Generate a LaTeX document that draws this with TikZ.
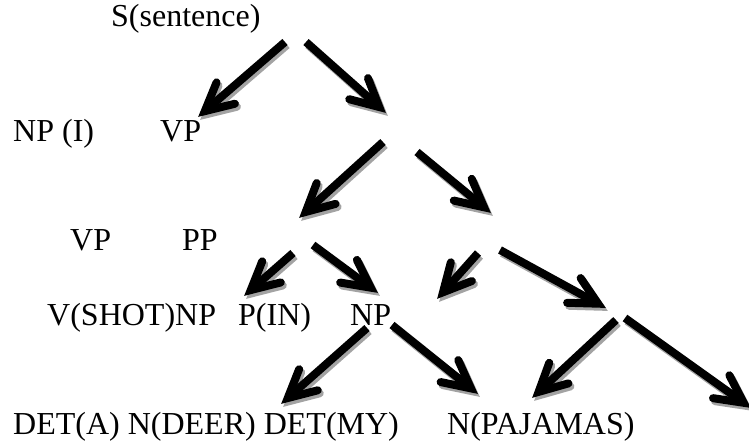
\documentclass[tikz,border=0pt]{standalone}
\usepackage{fontspec}
\setmainfont{Liberation Serif}
\usetikzlibrary{calc}
\begin{document}
\begin{tikzpicture}[x=1pt,y=-1pt,
  lbl/.style={anchor=base west, inner sep=0pt, font=\fontsize{32}{38}\selectfont},
  shaft/.style={line width=8pt, line cap=butt},
  head/.style={line width=8pt, line cap=round, line join=miter, miter limit=10},
  shadecol/.style={draw=black!36}]
\useasboundingbox (0,0) rectangle (749,441);

% labels of the parse tree
\node[lbl] (s)     at (111,27)  {S(sentence)};
\node[lbl] (npi)   at (13,141)  {NP (I)};
\node[lbl] (vp1)   at (160,141) {VP};
\node[lbl] (vp2)   at (70,250)  {VP};
\node[lbl] (pp)    at (182,250) {PP};
\node[lbl] (vshot) at (47,325)  {V(SHOT)NP};
\node[lbl] (pin)   at (238,325) {P(IN)};
\node[lbl] (np)    at (350,325) {NP};
\node[lbl] (dets)  at (13,434)  {DET(A) N(DEER) DET(MY)};
\node[lbl] (paj)   at (447,434) {N(PAJAMAS)};

% start and tip of each branch, then the corner and the two barb ends of its head
\foreach \i/\sx/\sy/\ex/\ey in {
  1/285/42/198/117, 2/306/42/386/113,
  3/383/142/299/218, 4/417/152/491/213,
  5/293/253/244/296, 6/313/245/378/293,
  7/478/253/437/299, 8/500/250/606/308,
  9/367/328/281/404, 10/392/325/478/394,
  11/616/320/532/398, 12/625/318/751/408}{
  \coordinate (b\i s) at (\sx,\sy);
  \coordinate (b\i e) at (\ex,\ey);
  \coordinate (b\i v) at ($(b\i e)!9pt!(b\i s)$);
  \coordinate (b\i l) at ($(b\i v)!31pt!27:(b\i s)$);
  \coordinate (b\i r) at ($(b\i v)!31pt!-27:(b\i s)$);
}

% drop shadows first
\begin{scope}[transform canvas={shift={(2pt,-3pt)}}]
  \foreach \i in {1,...,12}{
    \draw[shaft, shadecol] (b\i s) -- (b\i v);
    \draw[head, shadecol] (b\i l) -- (b\i v) -- (b\i r);
  }
\end{scope}
% the branches on top
\foreach \i in {1,...,12}{
  \draw[shaft] (b\i s) -- (b\i v);
  \draw[head] (b\i l) -- (b\i v) -- (b\i r);
}
\end{tikzpicture}
\end{document}
